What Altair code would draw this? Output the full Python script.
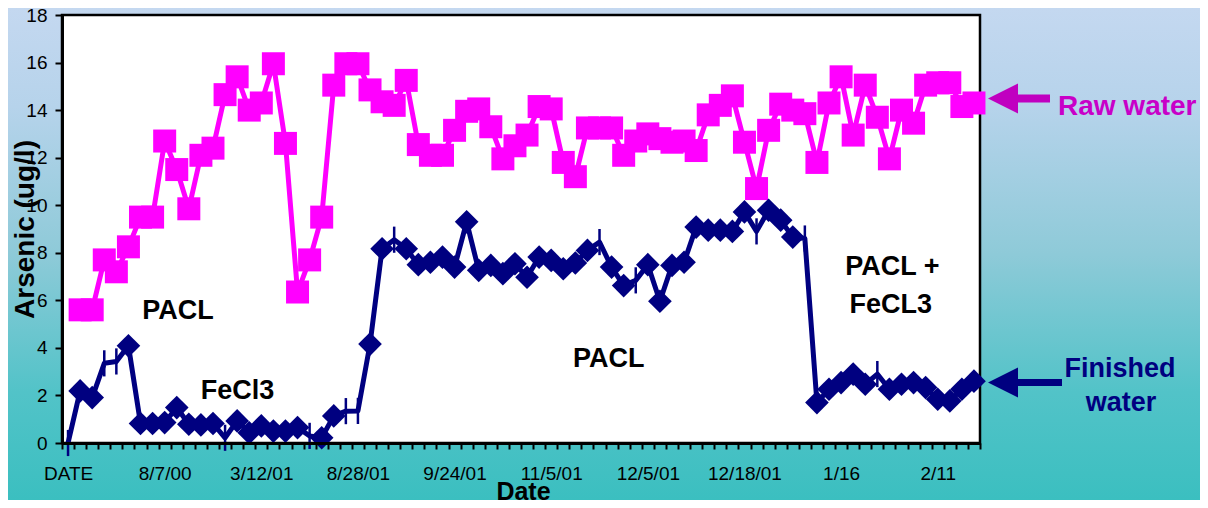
import json
import altair as alt
import pandas as pd

# ---------------- data ----------------
x_labels = ["DATE", "8/7/00", "3/12/01", "8/28/01", "9/24/01", "11/5/01",
            "12/5/01", "12/18/01", "1/16", "2/11"]
label_every = 8
n_cat = 76

raw_idx = list(range(1, 76))
raw_vals = [5.6, 5.6, 7.7, 7.2, 8.25, 9.5, 9.5, 12.7, 11.5, 9.85,
            12.1, 12.4, 14.65, 15.4, 14.0, 14.3, 15.95, 12.6, 6.35, 7.7,
            9.5, 15.05, 15.95, 15.95, 14.85, 14.35, 14.2, 15.25, 12.55, 12.1,
            12.1, 13.15, 13.95, 14.05, 13.3, 11.95, 12.5, 12.95, 14.15, 14.05,
            11.8, 11.2, 13.25, 13.25, 13.25, 12.1, 12.7, 13.0, 12.8, 12.65,
            12.7, 12.3, 13.8, 14.2, 14.6, 12.65, 10.7, 13.15, 14.25, 14.0,
            13.85, 11.8, 14.3, 15.4, 12.95, 15.05, 13.7, 11.95, 14.0, 13.45,
            15.05, 15.15, 15.15, 14.15, 14.3]

fin_idx = list(range(0, 76))
fin_vals = [0.0, 2.19, 1.91, 3.35, 3.43, 4.09, 0.82, 0.82, 0.86, 1.49,
            0.79, 0.76, 0.82, 0.22, 0.93, 0.43, 0.72, 0.5, 0.5, 0.65,
            0.3, 0.22, 1.14, 1.34, 1.35, 4.16, 8.17, 8.55, 8.17, 7.5,
            7.6, 7.82, 7.4, 9.3, 7.26, 7.47, 7.12, 7.54, 6.97, 7.82,
            7.68, 7.33, 7.57, 8.1, 8.45, 7.4, 6.62, 6.84, 7.5, 5.96,
            7.47, 7.6, 9.08, 8.95, 8.95, 8.9, 9.72, 8.9, 9.79, 9.37,
            8.66, 8.6, 1.7, 2.26, 2.54, 2.9, 2.47, 2.9, 2.26, 2.47,
            2.54, 2.33, 1.84, 1.77, 2.26, 2.6]
# samples drawn with a short vertical bar instead of a diamond
bar_idx = [0, 3, 4, 13, 20, 23, 24, 27, 44, 47, 57, 61, 67]

# ---------------- styling ----------------
FONT = "Liberation Sans, Arial, sans-serif"
RAW = "#FF00FF"
RAW_LABEL = "#C800C8"
FIN = "#000080"
W, H = 918, 428
PAD = {"left": 54, "top": 7, "right": 220, "bottom": 57}

raw_df = pd.DataFrame({"idx": raw_idx, "value": raw_vals})
fin_df = pd.DataFrame({"idx": fin_idx, "value": fin_vals})
fin_df["marker"] = ["bar" if i in bar_idx else "diamond" for i in fin_idx]

xs = alt.Scale(domain=[-0.5, n_cat - 0.5], nice=False, zero=False)
ys = alt.Scale(domain=[0, 18], nice=False, zero=True)

half_step = W / n_cat / 2
x_axis = alt.Axis(
    values=[k - 0.5 for k in range(n_cat + 1)],
    labelExpr=(f"((datum.value + 0.5) % {label_every} == 0) ? "
               f"{json.dumps(x_labels)}[(datum.value + 0.5) / {label_every}] : ''"),
    labelOffset=half_step, labelFlush=False, labelOverlap=False,
    labelFont=FONT, labelFontSize=19, labelColor="black", labelPadding=15,
    tickSize=6, tickWidth=2, tickColor="black",
    domainColor="black", domainWidth=3, grid=False,
    title="Date", titleFont=FONT, titleFontSize=25, titleFontWeight="bold",
    titleColor="black", titleBaseline="alphabetic", titleAlign="center",
    titleX=461, titleY=56, zindex=1,
)
y_axis = alt.Axis(
    values=list(range(0, 19, 2)),
    labelFont=FONT, labelFontSize=19, labelColor="black", labelPadding=8,
    tickSize=7, tickWidth=2, tickColor="black",
    domainColor="black", domainWidth=3, grid=False,
    title="Arsenic (ug/l)", titleFont=FONT, titleFontSize=28,
    titleFontWeight="bold", titleColor="black", titleAngle=270,
    titleBaseline="alphabetic", titleAlign="center", titleX=-29, titleY=214,
    zindex=1,
)

X = alt.X("idx:Q", scale=xs, axis=x_axis)
Y = alt.Y("value:Q", scale=ys, axis=y_axis)

one = pd.DataFrame({"d": [0]})

bg = alt.Chart(one).mark_rect(
    color=alt.LinearGradient(
        gradient="linear", x1=0, x2=0, y1=0, y2=1,
        stops=[alt.GradientStop(color="#C4D8F0", offset=0),
               alt.GradientStop(color="#B6D3EB", offset=0.2),
               alt.GradientStop(color="#8ECAD8", offset=0.5),
               alt.GradientStop(color="#52C3C8", offset=0.78),
               alt.GradientStop(color="#3BBFC0", offset=1)])
).encode(x=alt.value(-PAD["left"]), x2=alt.value(W + PAD["right"]),
         y=alt.value(-PAD["top"]), y2=alt.value(H + PAD["bottom"]))

frame = alt.Chart(one).mark_rect(fill="white", stroke="black", strokeWidth=2.5).encode(
    x=alt.value(0), x2=alt.value(W), y=alt.value(0), y2=alt.value(H))

raw_line = alt.Chart(raw_df).mark_line(color=RAW, strokeWidth=5, strokeJoin="round").encode(x=X, y=Y)
raw_pts = alt.Chart(raw_df).mark_point(shape="square", filled=True, size=529,
                                       color=RAW, opacity=1).encode(x=X, y=Y)

fin_line = alt.Chart(fin_df).mark_line(color=FIN, strokeWidth=5, strokeJoin="round").encode(x=X, y=Y)
fin_bars = alt.Chart(fin_df).transform_filter("datum.marker == 'bar'").transform_calculate(
    lo="datum.value - 0.55", hi="datum.value + 0.55"
).mark_rule(color=FIN, strokeWidth=2.5).encode(
    x=X, y=alt.Y("lo:Q", scale=ys, axis=y_axis), y2="hi:Q")
fin_pts = alt.Chart(fin_df).transform_filter("datum.marker == 'diamond'").mark_point(
    shape="diamond", filled=True, size=560, color=FIN, opacity=1).encode(x=X, y=Y)


def label(text, x, y, color="black", size=27, align="center"):
    return alt.Chart(one).mark_text(
        text=text, font=FONT, fontSize=size, fontWeight="bold", color=color,
        align=align, baseline="alphabetic").encode(x=alt.value(x), y=alt.value(y))


def arrow(y, x_end, color, thick):
    head = alt.Chart(one).mark_point(
        shape="M-1,0L1,-1L1,1Z", filled=True, size=900, color=color, opacity=1,
        strokeWidth=0).encode(x=alt.value(941), y=alt.value(y))
    shaft = alt.Chart(one).mark_rule(color=color, strokeWidth=thick).encode(
        x=alt.value(952), x2=alt.value(x_end), y=alt.value(y))
    return [head, shaft]


layers = [bg, frame, raw_line, raw_pts, fin_line, fin_bars, fin_pts,
          label("PACL", 116, 304),
          label("FeCl3", 175.5, 384),
          label("PACL", 546.7, 351.7),
          label("PACL +", 830.5, 260),
          label("FeCL3", 828.7, 298),
          label("Raw water", 996, 100, color=RAW_LABEL, size=28, align="left"),
          label("Finished", 1058, 362, color=FIN),
          label("water", 1059, 396, color=FIN)]
layers += arrow(83.5, 988, "#C000C0", 8)
layers += arrow(367.5, 1000, FIN, 7)

chart = alt.layer(*layers).properties(
    width=W, height=H, padding=PAD,
    autosize=alt.AutoSizeParams(type="none"),
    background="#3BBFC0",
).configure_view(strokeWidth=0)

chart.save("out.html", embed_options={"renderer": "svg", "actions": False})
